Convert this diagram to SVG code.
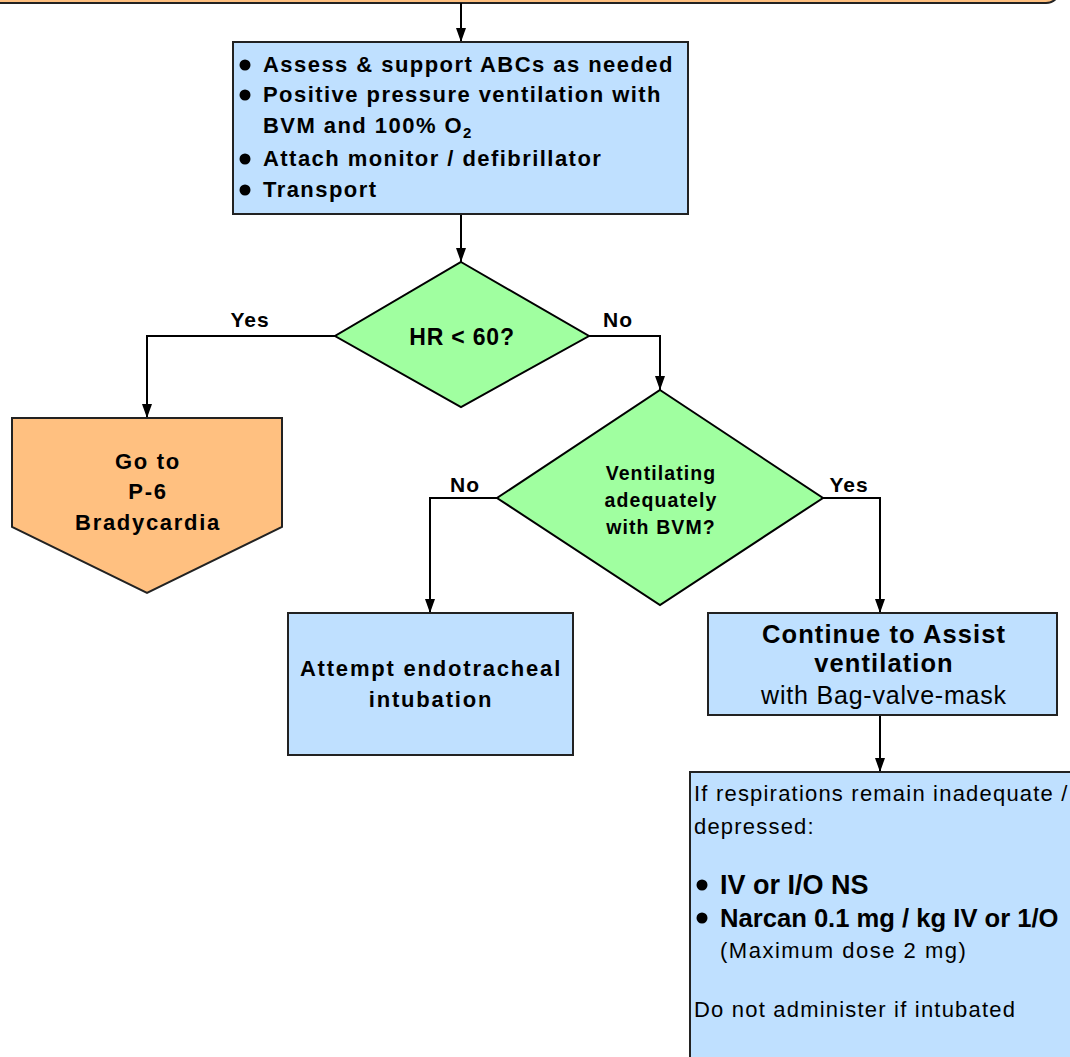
<svg xmlns="http://www.w3.org/2000/svg" width="1070" height="1057" viewBox="0 0 1070 1057">
<defs>
<marker id="arr" viewBox="0 0 14 10" refX="14" refY="5" markerWidth="14" markerHeight="10" markerUnits="userSpaceOnUse" orient="auto">
<path d="M0,0 L14,5 L0,10 Z" fill="#000"/>
</marker>
<style>
.box{fill:#BFE0FF;stroke:#222;stroke-width:2}
.dia{fill:#A0FFA0;stroke:#000;stroke-width:2}
.org{fill:#FFC080;stroke:#222;stroke-width:2}
.con{fill:none;stroke:#000;stroke-width:2;marker-end:url(#arr)}
text{font-family:"Liberation Sans",Arial,sans-serif;fill:#000}
.b{font-weight:bold}
.m{text-anchor:middle}
</style>
</defs>
<rect width="1070" height="1057" fill="#fff"/>
<g id="top">
<rect x="-30" y="-60" width="1090" height="63" rx="14" class="org"/>
</g>
<g id="connectors">
<path class="con" d="M461,3 V42"/>
<path class="con" d="M461,214 V262"/>
<path class="con" d="M335,336 H147 V418"/>
<path class="con" d="M589,336 H660 V390"/>
<path class="con" d="M497,498 H430 V613"/>
<path class="con" d="M823,498 H880 V613"/>
<path class="con" d="M880,715 V772"/>
<g class="b m" font-size="21" letter-spacing="1">
<text x="250" y="327">Yes</text>
<text x="618" y="327">No</text>
<text x="465" y="492">No</text>
<text x="849" y="492">Yes</text>
</g>
</g>
<g id="assess">
<rect x="233" y="42" width="455" height="172" class="box"/>
<g font-size="22" letter-spacing="1.45" class="b">
<circle cx="245" cy="65" r="5.5"/>
<text x="263" y="72">Assess &amp; support ABCs as needed</text>
<circle cx="245" cy="95" r="5.5"/>
<text x="263" y="102">Positive pressure ventilation with</text>
<text x="263" y="133">BVM and 100% O<tspan font-size="15" dy="5">2</tspan></text>
<circle cx="245" cy="159" r="5.5"/>
<text x="263" y="166">Attach monitor / defibrillator</text>
<circle cx="245" cy="190" r="5.5"/>
<text x="263" y="197">Transport</text>
</g>
</g>
<g id="hr">
<polygon points="461,262 589,336 461,407 335,336" class="dia"/>
<text x="462" y="345" class="b m" font-size="23" letter-spacing="0.8">HR &lt; 60?</text>
</g>
<g id="brady">
<polygon points="12,418 282,418 282,527 147,593 12,527" class="org"/>
<g class="b m" font-size="22" letter-spacing="1.7">
<text x="148" y="469">Go to</text>
<text x="148" y="499">P-6</text>
<text x="148" y="530">Bradycardia</text>
</g>
</g>
<g id="vent">
<polygon points="660,390 823,498 660,605 497,498" class="dia"/>
<g class="b m" font-size="19.5" letter-spacing="1.1">
<text x="661" y="480">Ventilating</text>
<text x="661" y="507">adequately</text>
<text x="661" y="534">with BVM?</text>
</g>
</g>
<g id="intubate">
<rect x="288" y="613" width="285" height="142" class="box"/>
<g class="b m" font-size="22" letter-spacing="1.8">
<text x="431" y="676">Attempt endotracheal</text>
<text x="431" y="707">intubation</text>
</g>
</g>
<g id="continue">
<rect x="708" y="613" width="349" height="102" class="box"/>
<text x="884" y="643" class="b m" font-size="25.5" letter-spacing="1.1">Continue to Assist</text>
<text x="884" y="672" class="b m" font-size="25.5" letter-spacing="1.1">ventilation</text>
<text x="884" y="704" class="m" font-size="25" letter-spacing="0.8">with Bag-valve-mask</text>
</g>
<g id="narcan">
<rect x="690" y="772" width="400" height="300" class="box"/>
<text x="694" y="801" font-size="22" letter-spacing="1.2">If respirations remain inadequate /</text>
<text x="694" y="834" font-size="22" letter-spacing="1.2">depressed:</text>
<circle cx="702" cy="885" r="5.5"/>
<text x="720" y="894" class="b" font-size="27">IV or I/O NS</text>
<circle cx="702" cy="918" r="5.5"/>
<text x="720" y="927" class="b" font-size="25.6">Narcan 0.1 mg / kg IV or 1/O</text>
<text x="720" y="958" font-size="22" letter-spacing="1.5">(Maximum dose 2 mg)</text>
<text x="694" y="1017" font-size="22" letter-spacing="1.2">Do not administer if intubated</text>
</g>
</svg>
